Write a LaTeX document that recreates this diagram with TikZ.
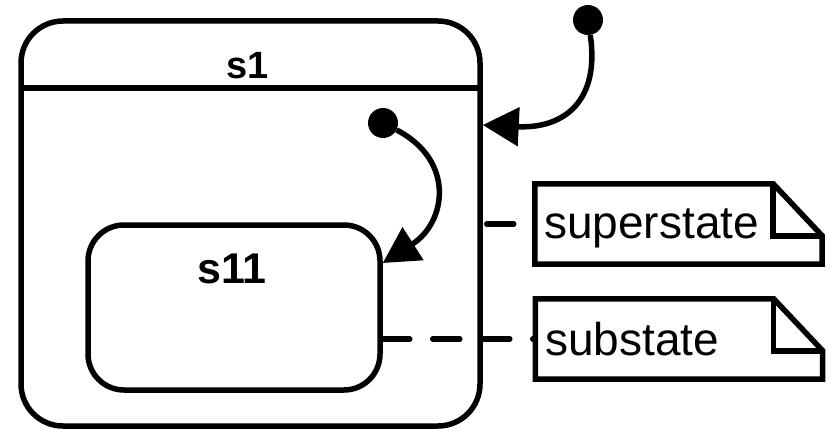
\documentclass[tikz,border=0pt]{standalone}
\usepackage{fontspec}
\setmainfont{Liberation Sans}
\usetikzlibrary{arrows.meta}
\tikzset{
  line/.style={line width=5.5pt},
  statebox/.style={draw, line width=5.5pt, rectangle, inner sep=0pt},
  initdot/.style={circle, fill=black, inner sep=0pt, minimum size=30pt},
  trans/.style={line width=5.5pt, -{Triangle[length=36pt,width=38pt]}},
  notebox/.style={rectangle, inner sep=0pt, minimum width=287pt, minimum height=80pt},
  noteline/.style={line width=5.5pt, line join=miter},
  notetext/.style={inner sep=0pt, font=\fontsize{46}{50}\selectfont},
  statetext/.style={inner sep=0pt, font=\bfseries},
  anchorline/.style={line width=5.5pt, line cap=round, dash pattern=on 27pt off 23pt}
}
\begin{document}
\begin{tikzpicture}[x=1pt,y=-1pt]
\useasboundingbox (0,0) rectangle (830,433);
% outer state s1
\node[statebox, rounded corners=42pt, minimum width=459pt, minimum height=405pt] (s1) at (250.5,223.5) {};
\draw[line] (21,88) -- (480,88);
\node[statetext, anchor=base, font=\bfseries\fontsize{38}{40}\selectfont] (s1lbl) at (248,79) {s1};
% inner state s11
\node[statebox, rounded corners=36pt, minimum width=292pt, minimum height=165pt] (s11) at (234,307.5) {};
\node[statetext, anchor=base, font=\bfseries\fontsize{43}{46}\selectfont] (s11lbl) at (232,283) {s11};
% initial pseudostates
\node[initdot] (i1) at (588,20) {};
\node[initdot] (i2) at (383,123) {};
\coordinate (t1) at (s1.east |- 0,125);
\coordinate (t2) at (s11.east |- 0,263);
\draw[trans] (i1) .. controls (600,100) and (565,129) .. (t1);
\draw[trans] (i2) .. controls (455,160) and (447,222) .. (t2);
% notes
\node[notebox] (sup) at (678.5,224) {};
\node[notebox] (sub) at (679,339) {};
\foreach \n in {sup,sub}{
  \draw[noteline] (\n.north west) -- ([xshift=-49pt]\n.north east) -- ([yshift=-52pt]\n.north east) -- (\n.south east) -- (\n.south west) -- cycle;
  \draw[noteline] ([xshift=-49pt]\n.north east) -- ([xshift=-49pt,yshift=-52pt]\n.north east) -- ([yshift=-52pt]\n.north east);
}
\node[notetext, anchor=base west] (suptxt) at (544,238) {superstate};
\node[notetext, anchor=base west] (subtxt) at (545,355) {substate};
% note anchors
\draw[anchorline, dash phase=-4pt] (s1.east |- sup.west) -- (sup.west);
\draw[anchorline] (s11.east |- sub.west) -- (sub.west);
\end{tikzpicture}
\end{document}
